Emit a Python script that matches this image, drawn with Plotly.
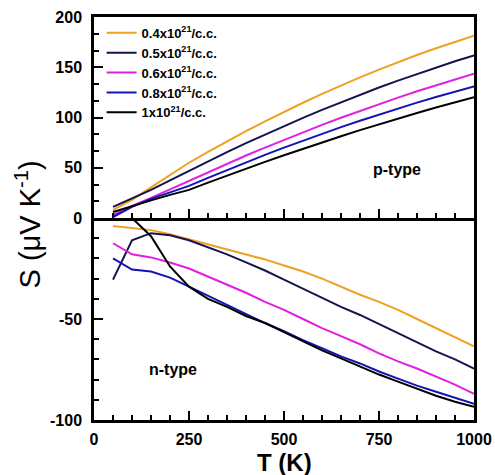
import plotly.graph_objects as go

# Temperature grid (K)
temperature = [50, 100, 150, 200, 250, 300, 350, 400, 450, 500,
               550, 600, 650, 700, 750, 800, 850, 900, 950, 1000]

# Carrier concentrations (legend labels)
labels = [
    "0.4x10<sup>21</sup>/c.c.",
    "0.5x10<sup>21</sup>/c.c.",
    "0.6x10<sup>21</sup>/c.c.",
    "0.8x10<sup>21</sup>/c.c.",
    "1x10<sup>21</sup>/c.c.",
]
colors = ["#F0A020", "#14144E", "#E020E0", "#1414B4", "#000000"]

# Seebeck coefficient, p-type (uV/K)
p_04 = [8, 18, 30.5, 43, 55, 65.8, 76.3, 86.4, 96.2, 105.6, 114.7, 123.5, 131.9, 140, 147.7, 155.1, 162.2, 168.9, 175.3, 181.3]
p_05 = [11, 19.5, 28, 37.5, 47, 56.4, 65.6, 74.5, 83.1, 91.5, 99.7, 107.6, 115.2, 122.6, 129.8, 136.7, 143.3, 149.7, 155.9, 161.8]
p_06 = [3, 12, 20, 28.5, 37, 45.6, 54, 62.2, 70.1, 77.9, 85.4, 92.7, 99.8, 106.7, 113.4, 119.8, 126.1, 132.1, 137.9, 143.5]
p_08 = [1, 11, 19, 25.5, 32, 40, 47.8, 55.4, 62.8, 70, 77, 83.8, 90.4, 96.8, 103, 109, 114.8, 120.4, 125.8, 131]
p_10 = [6, 12, 17.5, 23, 28, 35.2, 42.3, 49.2, 55.9, 62.5, 69, 75.3, 81.4, 87.4, 93.3, 99, 104.5, 109.9, 115.2, 120.3]

# Seebeck coefficient, n-type (uV/K)
n_04 = [-4, -5, -6, -8, -10.5, -13, -15.5, -18, -20.5, -23.5, -26.5, -30, -34, -38, -41.5, -45.5, -50, -54.5, -59, -63.5]
n_05 = [-30.5, -11, -7.5, -8.5, -11, -14.5, -18, -22, -26, -30.5, -35, -39.5, -44, -48, -52.5, -57, -61.5, -66, -70, -74.5]
n_06 = [-12.5, -18, -19.5, -22, -25, -29, -33, -37, -41.5, -45.5, -50, -54.5, -58.5, -62.5, -67, -71, -74.5, -78.5, -82.5, -87]
n_08 = [-20, -25.5, -26.5, -29.5, -34, -38.5, -43, -47.5, -52, -56, -60.5, -64.5, -68.5, -72, -76, -79.5, -83, -86, -89, -92]
n_10 = [None, 0, -9, -24, -34, -40, -44, -48.5, -52, -56.5, -61, -65.5, -69.5, -73.5, -77.5, -81, -84.5, -88, -91, -93.5]

p_series = [p_04, p_05, p_06, p_08, p_10]
n_series = [n_04, n_05, n_06, n_08, n_10]

FONT = "Liberation Sans, Arial, sans-serif"

fig = go.Figure()

for lab, col, ys in zip(labels, colors, p_series):
    fig.add_trace(go.Scatter(x=temperature, y=ys, mode="lines", name="<b>" + lab + "</b>",
                             line=dict(color=col, width=2),
                             xaxis="x", yaxis="y"))

for lab, col, ys in zip(labels, colors, n_series):
    fig.add_trace(go.Scatter(x=temperature, y=ys, mode="lines", name="<b>" + lab + "</b>",
                             line=dict(color=col, width=2),
                             xaxis="x2", yaxis="y2", showlegend=False))

tick_font = dict(family=FONT, size=16, color="black", weight="bold")
split = 202 / 403


def x_axis(**kw):
    base = dict(range=[0, 1000], dtick=250, tick0=0, ticks="inside", ticklen=9, tickwidth=2,
                tickcolor="black", showline=True, linewidth=2.5, linecolor="black",
                showgrid=False, zeroline=False, automargin=False, domain=[0, 1],
                minor=dict(dtick=50, tick0=0, ticks="inside", ticklen=5, tickwidth=2,
                           tickcolor="black", showgrid=False))
    base.update(kw)
    return base


def y_axis(**kw):
    base = dict(ticks="inside", ticklen=9, tickwidth=2, tickcolor="black",
                showline=True, linewidth=2.5, linecolor="black", mirror=True,
                showgrid=False, zeroline=False, tickfont=tick_font, ticklabelstandoff=6,
                automargin=False)
    base.update(kw)
    return base


fig.update_layout(
    width=495, height=475,
    margin=dict(l=94, r=21, t=17, b=55),
    paper_bgcolor="white", plot_bgcolor="white",
    font=dict(family=FONT, color="black"),
    xaxis=x_axis(anchor="y", mirror=True, showticklabels=False),
    xaxis2=x_axis(anchor="y2", mirror=False, tickfont=tick_font, ticklabelstandoff=3),
    yaxis=y_axis(domain=[split, 1], range=[0, 200], dtick=50, tick0=0,
                 minor=dict(dtick=50 / 3, tick0=0, ticks="inside", ticklen=5, tickwidth=2,
                            tickcolor="black", showgrid=False)),
    yaxis2=y_axis(domain=[0, split], range=[-100, 0],
                  tickmode="array", tickvals=[-100, -50, 0], ticktext=["-100", "-50", ""],
                  minor=dict(dtick=10, tick0=0, ticks="inside", ticklen=5, tickwidth=2,
                             tickcolor="black", showgrid=False)),
    legend=dict(x=0.02, y=0.998, xanchor="left", yanchor="top",
                bgcolor="rgba(0,0,0,0)", borderwidth=0,
                font=dict(size=13, family=FONT),
                itemwidth=30, tracegroupgap=0),
    showlegend=True,
)

# x-axis title placed below the tick labels
fig.add_annotation(text="<b>T (K)</b>", xref="paper", yref="paper",
                   x=0.5, y=-0.068, xanchor="center", yanchor="top",
                   showarrow=False, font=dict(size=24, family=FONT))

# Shared y-axis title across both panels
fig.add_annotation(text="S (μV K<sup>-1</sup>)", xref="paper", yref="paper",
                   x=-0.175, y=0.484, xanchor="center", yanchor="middle",
                   textangle=-90, showarrow=False,
                   font=dict(size=29, family=FONT))

fig.add_annotation(text="<b>p-type</b>", xref="x", yref="y", x=797, y=48,
                   showarrow=False, font=dict(size=16))
fig.add_annotation(text="<b>n-type</b>", xref="x2", yref="y2", x=209, y=-75,
                   showarrow=False, font=dict(size=16))

fig.write_html("out.html")
